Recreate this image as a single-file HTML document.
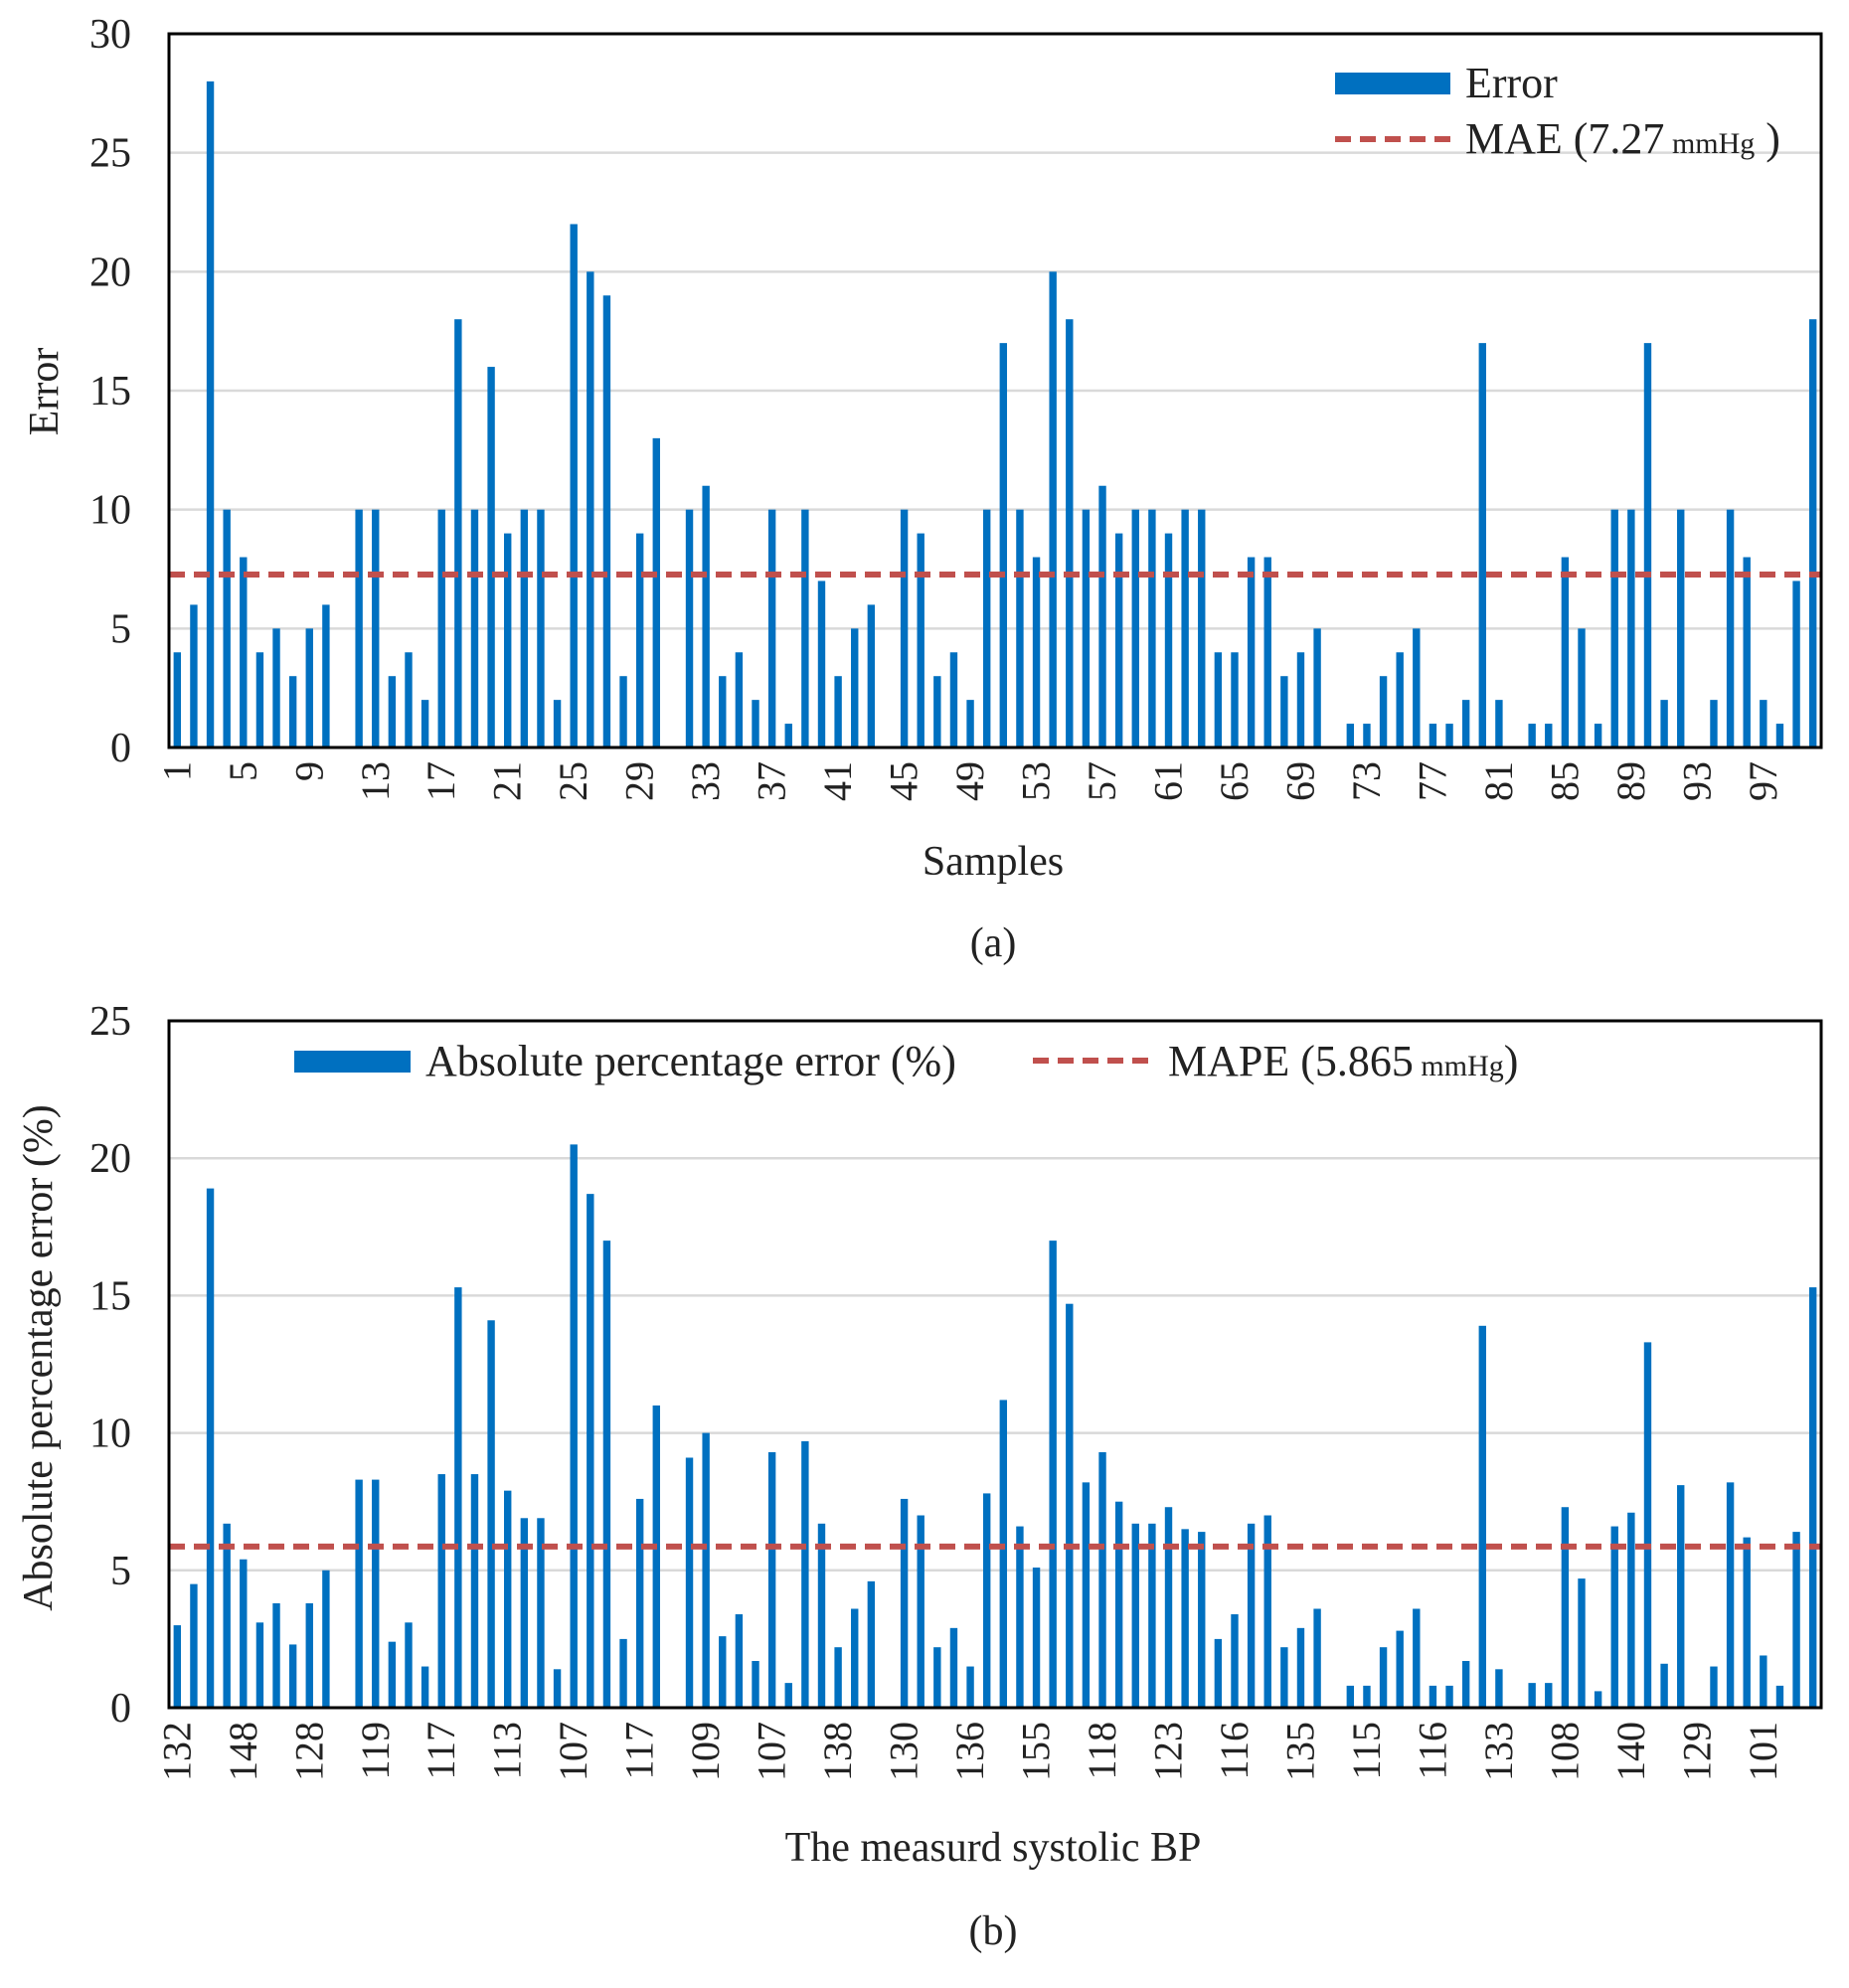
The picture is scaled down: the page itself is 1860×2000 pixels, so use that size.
<!DOCTYPE html>
<html><head><meta charset="utf-8"><style>
html,body{margin:0;padding:0;background:#fff;}
svg{display:block;font-family:"Liberation Serif",serif;}
</style></head><body>
<svg id="c" width="1860" height="2000" viewBox="0 0 1860 2000"></svg>
<script>
const samplesA = [];
for (let i = 1; i <= 100; i++) samplesA.push(i);
const errorValues = [4,6,28,10,8,4,5,3,5,6,0,10,10,3,4,2,10,18,10,16,9,10,10,2,22,20,19,3,9,13,0,10,11,3,4,2,10,1,10,7,3,5,6,0,10,9,3,4,2,10,17,10,8,20,18,10,11,9,10,10,9,10,10,4,4,8,8,3,4,5,0,1,1,3,4,5,1,1,2,17,2,0,1,1,8,5,1,10,10,17,2,10,0,2,10,8,2,1,7,18];
const maeValue = 7.27;
const yTicksA = [0,5,10,15,20,25,30];
const apeValues = [3.0,4.5,18.9,6.7,5.4,3.1,3.8,2.3,3.8,5.0,0,8.3,8.3,2.4,3.1,1.5,8.5,15.3,8.5,14.1,7.9,6.9,6.9,1.4,20.5,18.7,17.0,2.5,7.6,11.0,0,9.1,10.0,2.6,3.4,1.7,9.3,0.9,9.7,6.7,2.2,3.6,4.6,0,7.6,7.0,2.2,2.9,1.5,7.8,11.2,6.6,5.1,17.0,14.7,8.2,9.3,7.5,6.7,6.7,7.3,6.5,6.4,2.5,3.4,6.7,7.0,2.2,2.9,3.6,0,0.8,0.8,2.2,2.8,3.6,0.8,0.8,1.7,13.9,1.4,0,0.9,0.9,7.3,4.7,0.6,6.6,7.1,13.3,1.6,8.1,0,1.5,8.2,6.2,1.9,0.8,6.4,15.3];
const mapeValue = 5.865;
const yTicksB = [0,5,10,15,20,25];
const bpTickLabels = ["132","148","128","119","117","113","107","117","109","107","138","130","136","155","118","123","116","135","115","116","133","108","140","129","101"];

const NS = "http://www.w3.org/2000/svg";
const svg = document.getElementById('c');
function mk(tag, attrs, parent) {
  const e = document.createElementNS(NS, tag);
  for (const k in attrs) e.setAttribute(k, attrs[k]);
  (parent || svg).appendChild(e);
  return e;
}

function drawChart(cfg) {
  const g = mk('g', {});
  
  
  const L = 170, R = 1832, T = cfg.top, B = cfg.bottom;
  const n = cfg.values.length;
  const cw = (R - L) / n;
  const ymax = cfg.yTicks[cfg.yTicks.length - 1];
  const y = v => B - v / ymax * (B - T);
  const x = i => L + cw * (i + 0.5);
  cfg.yTicks.forEach(t => {
    if (t > 0 && t < ymax) {
      const gl = mk('line', {x1: L, x2: R, y1: y(t), y2: y(t), stroke: '#d9d9d9', 'stroke-width': 2.5}, g);
      
      
    }
    const tl = mk('text', {x: 132, y: y(t) + 14, 'font-size': 42, 'text-anchor': 'end', fill: '#222'}, g);
    tl.textContent = t;
    
    
  });
  cfg.values.forEach((v, i) => {
    if (v <= 0) return;
    const b = mk('rect', {x: x(i) - 3.7, y: y(v), width: 7.4, height: B - y(v), fill: '#0070c0'}, g);
    
    
  });
  const ml = mk('line', {x1: L, x2: R, y1: y(cfg.mean), y2: y(cfg.mean), stroke: '#c0504d', 'stroke-width': 6, 'stroke-dasharray': '16 9'}, g);
  
  
  const fr = mk('rect', {x: L, y: T, width: R - L, height: B - T, fill: 'none', stroke: '#000', 'stroke-width': 3}, g);
  
  
  for (let k = 0; k * 4 < n; k++) {
    const i = k * 4;
    const tx = x(i) + 13, ty = B + 14;
    const lab = mk('text', {x: tx, y: ty, 'font-size': 40, 'text-anchor': 'end', fill: '#222', transform: `rotate(-90 ${tx} ${ty})`}, g);
    lab.textContent = cfg.xLabels[k];
    
    
  }
}

drawChart({name: 'chart-a', top: 34, bottom: 752, values: errorValues, yTicks: yTicksA, mean: maeValue,
  xLabels: samplesA.filter((s, i) => i % 4 === 0)});
drawChart({name: 'chart-b', top: 1027, bottom: 1718, values: apeValues, yTicks: yTicksB, mean: mapeValue,
  xLabels: bpTickLabels});
</script>
<script>
(function(){
const NS = "http://www.w3.org/2000/svg";
const svg = document.getElementById('c');
function t(x, y, s, size, name, extra) {
  const e = document.createElementNS(NS, 'text');
  e.setAttribute('x', x); e.setAttribute('y', y);
  e.setAttribute('font-size', size); e.setAttribute('fill', '#222');
  if (extra) for (const k in extra) e.setAttribute(k, extra[k]);
  e.innerHTML = s;
  
  
  svg.appendChild(e);
  return e;
}
function r(x, y, w, h, name) {
  const e = document.createElementNS(NS, 'rect');
  e.setAttribute('x', x); e.setAttribute('y', y); e.setAttribute('width', w); e.setAttribute('height', h);
  e.setAttribute('fill', '#0070c0');
  
  
  svg.appendChild(e);
}
function d(x1, x2, y, name) {
  const e = document.createElementNS(NS, 'line');
  e.setAttribute('x1', x1); e.setAttribute('x2', x2); e.setAttribute('y1', y); e.setAttribute('y2', y);
  e.setAttribute('stroke', '#c0504d'); e.setAttribute('stroke-width', 6); e.setAttribute('stroke-dasharray', '16 9');
  
  
  svg.appendChild(e);
}
r(1343, 73, 116, 22, 'legend-error-swatch');
t(1474, 98, 'Error', 44, 'legend-error-label');
d(1343, 1462, 140, 'legend-mae-swatch');
t(1474, 154, 'MAE (7.27<tspan font-size="30"> mmHg</tspan> )', 44, 'legend-mae-label');
t(44, 394, 'Error', 42, 'y-axis-title-a', {'text-anchor': 'middle', transform: 'rotate(-90 44 394) translate(0 14)'});
t(999, 880, 'Samples', 42, 'x-axis-title-a', {'text-anchor': 'middle'});
t(999, 962, '(a)', 42, 'caption-a', {'text-anchor': 'middle'});
r(296, 1057, 117, 22, 'legend-ape-swatch');
t(428, 1082, 'Absolute percentage error (%)', 44, 'legend-ape-label');
d(1039, 1162, 1067, 'legend-mape-swatch');
t(1175, 1082, 'MAPE (5.865<tspan font-size="30"> mmHg</tspan>)', 44, 'legend-mape-label');
t(38, 1366, 'Absolute percentage error  (%)', 42, 'y-axis-title-b', {'text-anchor': 'middle', transform: 'rotate(-90 38 1366) translate(0 14)'});
t(999, 1872, 'The measurd systolic BP', 42, 'x-axis-title-b', {'text-anchor': 'middle'});
t(999, 1956, '(b)', 42, 'caption-b', {'text-anchor': 'middle'});
})();
</script>
</body></html>
